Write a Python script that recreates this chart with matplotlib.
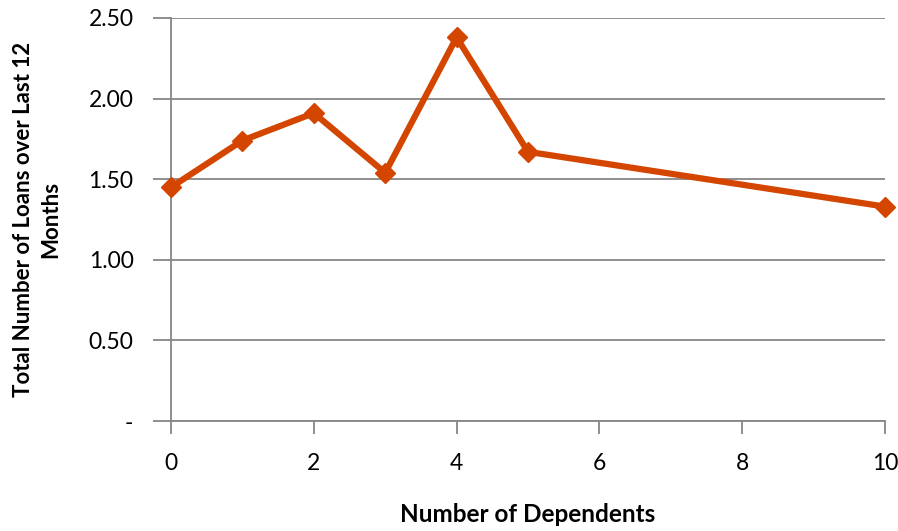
import matplotlib
matplotlib.use("Agg")
import matplotlib.pyplot as plt
from matplotlib.ticker import FuncFormatter

# Dependents vs. average loans taken over the last 12 months
dependents = [0, 1, 2, 3, 4, 5, 10]
loans = [1.45, 1.74, 1.91, 1.54, 2.38, 1.67, 1.33]

x_ticks = [0, 2, 4, 6, 8, 10]
y_ticks = [0.0, 0.5, 1.0, 1.5, 2.0, 2.5]

plt.rcParams["font.family"] = ["Lato", "DejaVu Sans"]

grid_gray = "#868686"
line_color = "#D44500"

W, H = 898, 531
fig = plt.figure(figsize=(W / 100, H / 100), dpi=100)
ax = fig.add_axes([171 / W, 1 - 421 / H, (885 - 171) / W, (421 - 18) / H])

ax.plot(dependents, loans, color=line_color, linewidth=4.5,
        marker="D", markersize=10, markeredgecolor=line_color,
        clip_on=False, zorder=3)

ax.set_xlim(0, 10)
ax.set_ylim(0, 2.5)
ax.set_xticks(x_ticks)
ax.set_yticks(y_ticks)
ax.yaxis.set_major_formatter(FuncFormatter(lambda v, _: "-" if v == 0 else f"{v:.2f}"))

# horizontal gridlines only
ax.yaxis.grid(True, color=grid_gray, linewidth=1.3)
ax.set_axisbelow(True)

for side in ("top", "right"):
    ax.spines[side].set_visible(False)
for side in ("left", "bottom"):
    ax.spines[side].set_color(grid_gray)
    ax.spines[side].set_linewidth(1.3)

ax.tick_params(axis="both", colors=grid_gray, width=1.3, length=9,
               labelsize=16.5, labelcolor="black")
ax.tick_params(axis="x", pad=14)
ax.tick_params(axis="y", length=13, pad=14)

ax.set_xlabel("Number of Dependents", fontsize=17.5, fontweight="bold", va="center")
ax.xaxis.set_label_coords(0.5, (421 - 515) / 403)
ax.set_ylabel("Total Number of Loans over Last 12\nMonths", fontsize=16,
              fontweight="bold", va="center", multialignment="center",
              linespacing=1.35)
ax.yaxis.set_label_coords((37 - 171) / 714, 0.5)

fig.savefig("out.png", dpi=100)
